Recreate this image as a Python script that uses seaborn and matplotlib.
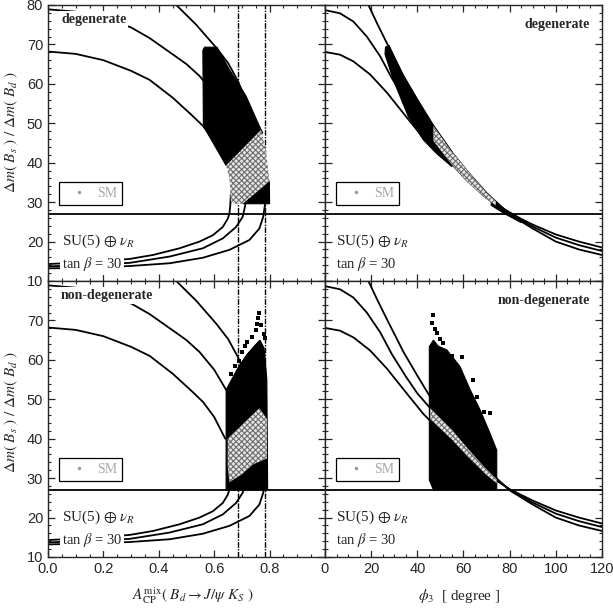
import numpy as np
import matplotlib
matplotlib.use("Agg")
import matplotlib.pyplot as plt
import seaborn as sns
from matplotlib.lines import Line2D
from matplotlib.ticker import MultipleLocator

# ---- data ----
# left panels: A_CP^mix vs ratio, upper / lower branches of the three contours
l_up1_x = [0.44, 0.463, 0.535, 0.607, 0.65, 0.685, 0.72]
l_up1_y = [82.0, 80.0, 75.0, 69.2, 65.3, 60.8, 55.0]
l_up2_x = [0.0, 0.1, 0.2, 0.3, 0.367, 0.45, 0.5, 0.547, 0.6, 0.643]
l_up2_y = [78.9, 78.3, 76.8, 74.3, 71.6, 67.5, 65.0, 62.0, 57.5, 52.4]
l_up3_x = [0.0, 0.1, 0.2, 0.3, 0.367, 0.45, 0.52, 0.56, 0.6, 0.64]
l_up3_y = [68.2, 67.6, 66.0, 63.3, 61.0, 56.5, 52.0, 49.3, 45.5, 40.0]
l_lo1_x = [0.0, 0.15, 0.295, 0.379, 0.475, 0.547, 0.595, 0.631, 0.649, 0.655, 0.658, 0.66]
l_lo1_y = [14.3, 14.8, 15.6, 16.6, 18.3, 20.0, 21.6, 23.7, 25.8, 27.1, 29.2, 32.0]
l_lo2_x = [0.0, 0.15, 0.295, 0.439, 0.559, 0.631, 0.679, 0.703, 0.712, 0.715]
l_lo2_y = [13.7, 14.1, 14.6, 16.2, 18.3, 20.8, 23.7, 26.3, 29.2, 32.0]
l_lo3_x = [0.0, 0.15, 0.295, 0.439, 0.559, 0.655, 0.727, 0.763, 0.777, 0.783, 0.785]
l_lo3_y = [13.2, 13.4, 13.8, 14.5, 15.9, 17.9, 20.4, 23.3, 26.3, 29.2, 32.0]
acp_bounds = [0.685, 0.784]

# right panels: phi_3 vs ratio
r_a_x = [0, 6.5, 12.3, 18.1, 23.9, 28.9, 35, 40, 47, 55, 62, 70, 80, 90, 100, 110, 120]
r_a_y = [78.7, 77.9, 75.8, 72.0, 67.0, 61.5, 55.8, 51.5, 46.8, 41.3, 36.3, 31.6, 27.1, 23.8, 21.0, 19.1, 17.6]
r_b_x = [0, 6.5, 12.3, 19.5, 26.8, 35.4, 42.6, 48.4, 55, 62, 70, 80, 90, 100, 110, 120]
r_b_y = [68.1, 67.4, 65.7, 62.4, 57.8, 51.5, 46.3, 42.8, 39.6, 35.2, 31.0, 27.2, 24.3, 21.8, 20.0, 18.5]
r_c_x = [18.8, 23, 27.5, 34, 40, 47, 55, 62, 70, 80, 90, 100, 110, 120]
r_c_y = [80.0, 74.8, 69.5, 62.0, 56.0, 49.2, 42.6, 37.6, 32.3, 26.9, 23.3, 20.0, 18.0, 16.6]

ratio_line = 27.0

# scan regions (outlines of the dense point clouds)
tl_black_x = [0.559, 0.565, 0.61, 0.655, 0.715, 0.763, 0.775, 0.643, 0.561]
tl_black_y = [68.5, 69.3, 69.3, 63.6, 56.9, 49.3, 47.6, 39.3, 49.3]
tl_black2_x = [0.703, 0.799, 0.80]
tl_black2_y = [29.6, 35.3, 29.6]
tl_sm_x = [0.643, 0.769, 0.787, 0.795, 0.799, 0.703, 0.661, 0.655]
tl_sm_y = [39.3, 48.3, 43.0, 38.0, 35.3, 29.6, 29.6, 36.0]

bl_black_x = [0.643, 0.643, 0.667, 0.69, 0.72, 0.745, 0.765, 0.78, 0.79, 0.793]
bl_black_y = [27.0, 52.4, 55.5, 58.5, 61.5, 63.5, 65.0, 63.0, 55.0, 27.0]
bl_out_x = [0.763, 0.758, 0.77, 0.75, 0.735, 0.712, 0.70, 0.69, 0.675, 0.78, 0.755, 0.72, 0.66, 0.785]
bl_out_y = [71.9, 70.5, 68.8, 67.6, 65.8, 63.5, 62.0, 59.8, 58.5, 66.5, 69.0, 64.6, 56.5, 65.5]
bl_sm_x = [0.649, 0.763, 0.79, 0.79, 0.74, 0.70, 0.667, 0.655, 0.649]
bl_sm_y = [40.0, 47.7, 45.0, 35.0, 33.5, 31.0, 29.5, 29.0, 33.0]

tr_black_x = [26.0, 26.2, 27.7, 34, 40, 47, 55, 55, 48.4, 42.6, 36.1, 29.6]
tr_black_y = [67.5, 69.3, 69.8, 62.0, 56.0, 49.5, 42.8, 39.0, 42.3, 45.8, 51.7, 61.0]
tr_black2_x = [72, 78, 85, 85, 78, 72]
tr_black2_y = [30.6, 28.2, 25.8, 24.8, 27.0, 29.2]
tr_sm_x = [47, 55, 62, 70, 74, 74, 70, 62, 55, 47]
tr_sm_y = [49.3, 42.7, 37.8, 32.3, 30.2, 29.2, 30.8, 35.0, 39.5, 45.5]

br_black_x = [45.2, 45.2, 47, 49, 52.8, 58.5, 62.9, 67.2, 71.6, 74.4, 74.4, 47]
br_black_y = [29.5, 63.4, 65.0, 63.5, 62.5, 58.3, 52.4, 47.3, 41.2, 37.1, 27.0, 27.0]
br_out_x = [47.0, 46.3, 48.4, 51.3, 59.3, 64.3, 65.8, 71.6, 47.5, 50.0, 55.0, 69.0]
br_out_y = [71.5, 69.3, 66.8, 64.2, 60.8, 54.9, 50.7, 46.4, 67.8, 65.2, 61.0, 46.8]
br_sm_x = [45.6, 55, 62, 70, 74.4, 74.4, 70, 62, 55, 45.6]
br_sm_y = [47.7, 42.2, 37.4, 32.2, 29.7, 28.7, 30.8, 35.4, 39.8, 45.0]

# ---- style ----
sns.set_style("ticks")
plt.rcParams['font.family'] = ['Liberation Sans', 'DejaVu Sans']
plt.rcParams['mathtext.fontset'] = 'stix'
plt.rcParams['hatch.linewidth'] = 0.8
plt.rcParams['axes.linewidth'] = 1.0
serif = ['Liberation Serif', 'DejaVu Serif']

fig, axes = plt.subplots(2, 2, figsize=(6.13, 6.10), dpi=100,
                         gridspec_kw=dict(hspace=0, wspace=0))
fig.subplots_adjust(left=48/613, right=602/613, top=1-5/610, bottom=1-557/610)


def curve(ax, x, y):
    sns.lineplot(x=x, y=y, sort=False, estimator=None, color='black',
                 linewidth=1.3, ax=ax, zorder=2)


def region(ax, x, y):
    ax.fill(x, y, color='black', linewidth=0.8, zorder=3)


def sm_region(ax, x, y):
    ax.fill(x, y, facecolor='#e6e6e6', edgecolor='#6e6e6e', hatch='xxxxxx',
            linewidth=0, zorder=4)


def decorate(ax, label, right_side):
    ax.set_ylim(10, 80)
    ax.yaxis.set_major_locator(MultipleLocator(10))
    ax.yaxis.set_minor_locator(MultipleLocator(2))
    ax.tick_params(which='both', direction='in', top=True, right=True,
                   labelsize=10.5)
    ax.tick_params(which='major', length=5, width=0.9)
    ax.tick_params(which='minor', length=2.5, width=0.8)
    ax.axhline(ratio_line, color='black', linewidth=1.3, zorder=2)
    h = Line2D([], [], marker='.', ls='', color='#9a9a9a', markersize=3)
    leg = ax.legend([h], ['SM'], loc='lower left', bbox_to_anchor=(0.04, 0.275),
                    borderaxespad=0, fancybox=False, framealpha=1,
                    edgecolor='black', handlelength=2.2, handletextpad=0.2,
                    borderpad=0.35, labelcolor='#a8a8a8',
                    prop=dict(family=serif, size=10))
    leg.get_frame().set_linewidth(0.9)
    leg.set_zorder(6)
    tx = 0.04 if right_side else 0.05
    box = dict(facecolor='white', edgecolor='none', pad=1)
    ax.text(tx, 20.0, r'SU(5) $\oplus$ $\nu_R$', fontsize=11, family=serif,
            va='center', ha='left', transform=ax.get_yaxis_transform(),
            bbox=box, zorder=5)
    ax.text(tx, 14.2, r'tan $\beta$ = 30', fontsize=10.5, family=serif,
            va='center', ha='left', transform=ax.get_yaxis_transform(),
            bbox=box, zorder=5)
    if right_side:
        ax.text(0.955, 0.93, label, fontsize=10, family=serif, weight='bold',
                ha='right', va='center', transform=ax.transAxes, zorder=5)
    else:
        ax.text(0.047, 0.946, label, fontsize=10, family=serif, weight='bold',
                ha='left', va='center', transform=ax.transAxes,
                bbox=dict(facecolor='white', edgecolor='none', pad=1.5), zorder=5)


# left column
for row, ax in enumerate(axes[:, 0]):
    for x, y in [(l_up1_x, l_up1_y), (l_up2_x, l_up2_y), (l_up3_x, l_up3_y),
                 (l_lo1_x, l_lo1_y), (l_lo2_x, l_lo2_y), (l_lo3_x, l_lo3_y)]:
        curve(ax, x, y)
    for xb in acp_bounds:
        ax.axvline(xb, color='black', linewidth=1.0, linestyle=(0, (4, 1, 1, 1)),
                   zorder=2)
    ax.set_xlim(0, 1.0)
    ax.xaxis.set_major_locator(MultipleLocator(0.2))
    ax.xaxis.set_minor_locator(MultipleLocator(0.05))
    decorate(ax, 'degenerate' if row == 0 else 'non-degenerate', False)

region(axes[0, 0], tl_black_x, tl_black_y)
region(axes[0, 0], tl_black2_x, tl_black2_y)
sm_region(axes[0, 0], tl_sm_x, tl_sm_y)
region(axes[1, 0], bl_black_x, bl_black_y)
sns.scatterplot(x=bl_out_x, y=bl_out_y, marker='s', s=5, color='black',
                linewidth=0, ax=axes[1, 0], zorder=3)
sm_region(axes[1, 0], bl_sm_x, bl_sm_y)

# right column
for row, ax in enumerate(axes[:, 1]):
    for x, y in [(r_a_x, r_a_y), (r_b_x, r_b_y), (r_c_x, r_c_y)]:
        curve(ax, x, y)
    ax.set_xlim(0, 120)
    ax.xaxis.set_major_locator(MultipleLocator(20))
    ax.xaxis.set_minor_locator(MultipleLocator(5))
    decorate(ax, 'degenerate' if row == 0 else 'non-degenerate', True)
    ax.tick_params(labelleft=False)

region(axes[0, 1], tr_black_x, tr_black_y)
region(axes[0, 1], tr_black2_x, tr_black2_y)
sm_region(axes[0, 1], tr_sm_x, tr_sm_y)
region(axes[1, 1], br_black_x, br_black_y)
sns.scatterplot(x=br_out_x, y=br_out_y, marker='s', s=5, color='black',
                linewidth=0, ax=axes[1, 1], zorder=3)
sm_region(axes[1, 1], br_sm_x, br_sm_y)

# tick labels: hide overlapping ones
for ax in axes[0, :]:
    ax.tick_params(labelbottom=False)
axes[1, 0].set_yticks(range(10, 80, 10))
axes[1, 0].yaxis.set_minor_locator(MultipleLocator(2))
axes[1, 0].set_ylim(10, 80)
axes[1, 0].set_xticks([0.0, 0.2, 0.4, 0.6, 0.8])
axes[1, 0].set_xticklabels(['0.0', '0.2', '0.4', '0.6', '0.8'])

ylab = r'$\Delta m(\ B_s\ )\ /\ \Delta m(\ B_d\ )$'
axes[0, 0].set_ylabel(ylab, fontsize=11)
axes[0, 0].yaxis.set_label_coords(-0.10, 0.54)
axes[1, 0].set_ylabel(ylab, fontsize=11)
axes[1, 0].yaxis.set_label_coords(-0.10, 0.525)
axes[1, 0].set_xlabel(r'$A_{\rm CP}^{\rm mix}(\ B_d \rightarrow J/\psi\ K_S\ )$', fontsize=11)
axes[1, 0].xaxis.set_label_coords(0.524, -0.103)
axes[1, 1].set_xlabel(r'$\phi_3$  [ degree ]', fontsize=11, family=serif)
axes[1, 1].xaxis.set_label_coords(0.484, -0.11)

for ax in axes.flat:
    for s in ax.spines.values():
        s.set_visible(True)

fig.savefig('out.png', dpi=100)
